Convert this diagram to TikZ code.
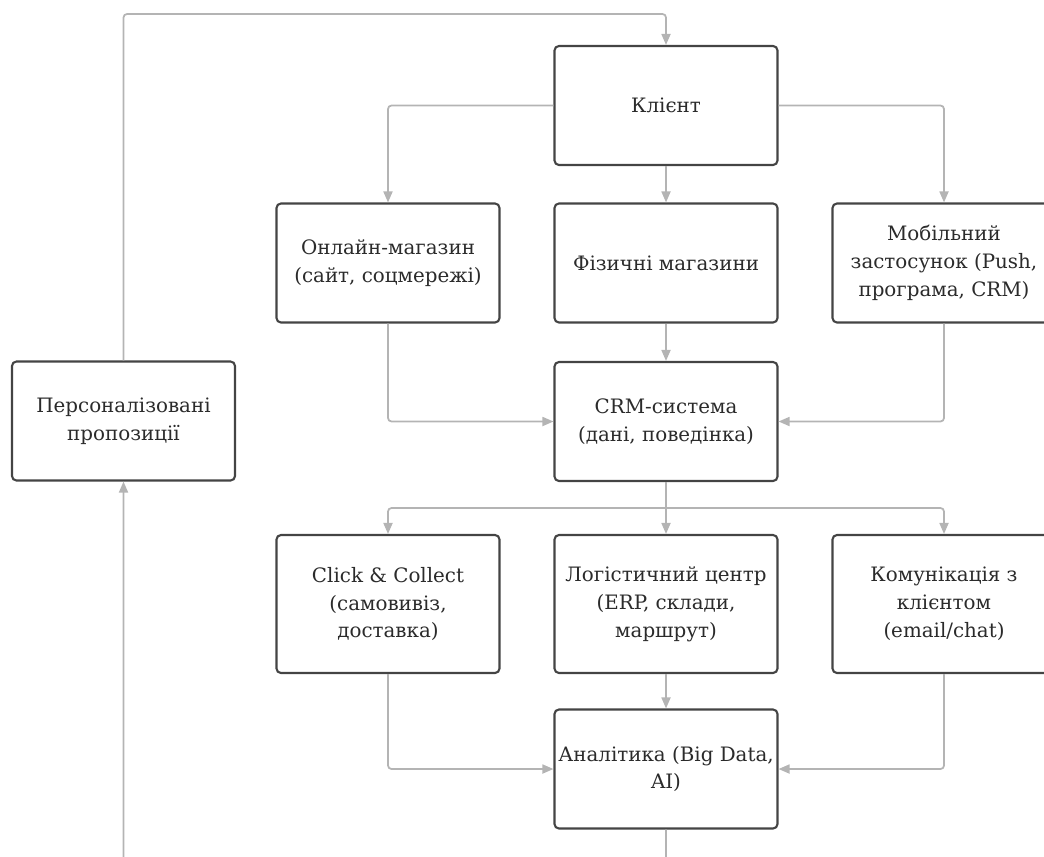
\documentclass[tikz,border=0pt]{standalone}
\usepackage{fontspec}
\setmainfont{DejaVu Serif}
\usetikzlibrary{arrows.meta}

\definecolor{boxline}{HTML}{444444}
\definecolor{flowline}{HTML}{B4B4B4}
\definecolor{boxtext}{HTML}{2B2B2B}

\begin{document}
\begin{tikzpicture}[x=0.02cm,y=-0.02cm,
  stage/.style={draw=boxline,line width=1.2pt,rounded corners=2.5pt,fill=white,text=boxtext,
    minimum width=4.46cm,minimum height=2.38cm,inner xsep=1.5pt,align=center,
    font=\fontsize{11.3}{15.9}\selectfont},
  tall/.style={stage,minimum height=2.76cm},
  flow/.style={draw=flowline,line width=1pt,rounded corners=2pt,-{Triangle[length=2.2mm,width=1.8mm]}},
  plain/.style={draw=flowline,line width=1pt,rounded corners=2pt}]
  \useasboundingbox (0,0) rectangle (1044,856);
  \clip (0,0) rectangle (1044,856);

  \node[stage] (client) at (666,105.5){Клієнт};
  \node[stage] (online) at (388,263){Онлайн-магазин\\(сайт, соцмережі)};
  \node[stage] (shops) at (666,263){Фізичні магазини};
  \node[stage] (mobile) at (944,263){Мобільний\\застосунок (Push,\\програма, CRM)};
  \node[stage] (crm) at (666,421.5){CRM-система\\(дані, поведінка)};
  \node[stage] (offers) at (123.5,421){Персоналізовані\\пропозиції};
  \node[tall] (pickup) at (388,604){Click \& Collect\\(самовивіз,\\доставка)};
  \node[tall] (logist) at (666,604){Логістичний центр\\(ERP, склади,\\маршрут)};
  \node[tall] (contact) at (944,604){Комунікація з\\клієнтом\\(email/chat)};
  \node[stage] (analytics) at (666,769){Аналітика (Big Data,\\AI)};

  \coordinate (loop top) at (123.5,14);
  \coordinate (split) at (666,508);
  \coordinate (loop bottom) at (400,900);

  \draw[flow] (client.west) -| (online.north);
  \draw[flow] (client.east) -| (mobile.north);
  \draw[flow] (client) -- (shops);
  \draw[flow] (online.south) |- (crm.west);
  \draw[flow] (mobile.south) |- (crm.east);
  \draw[flow] (shops) -- (crm);
  \draw[plain] (crm.south) -- (split);
  \draw[flow] (split) -| (pickup.north);
  \draw[flow] (split) -| (contact.north);
  \draw[flow] (split) -- (logist);
  \draw[flow] (pickup.south) |- (analytics.west);
  \draw[flow] (contact.south) |- (analytics.east);
  \draw[flow] (logist) -- (analytics);
  \draw[flow] (analytics.south) |- (loop bottom) -| (offers.south);
  \draw[flow] (offers.north) -- (loop top) -| (client.north);
\end{tikzpicture}
\end{document}
